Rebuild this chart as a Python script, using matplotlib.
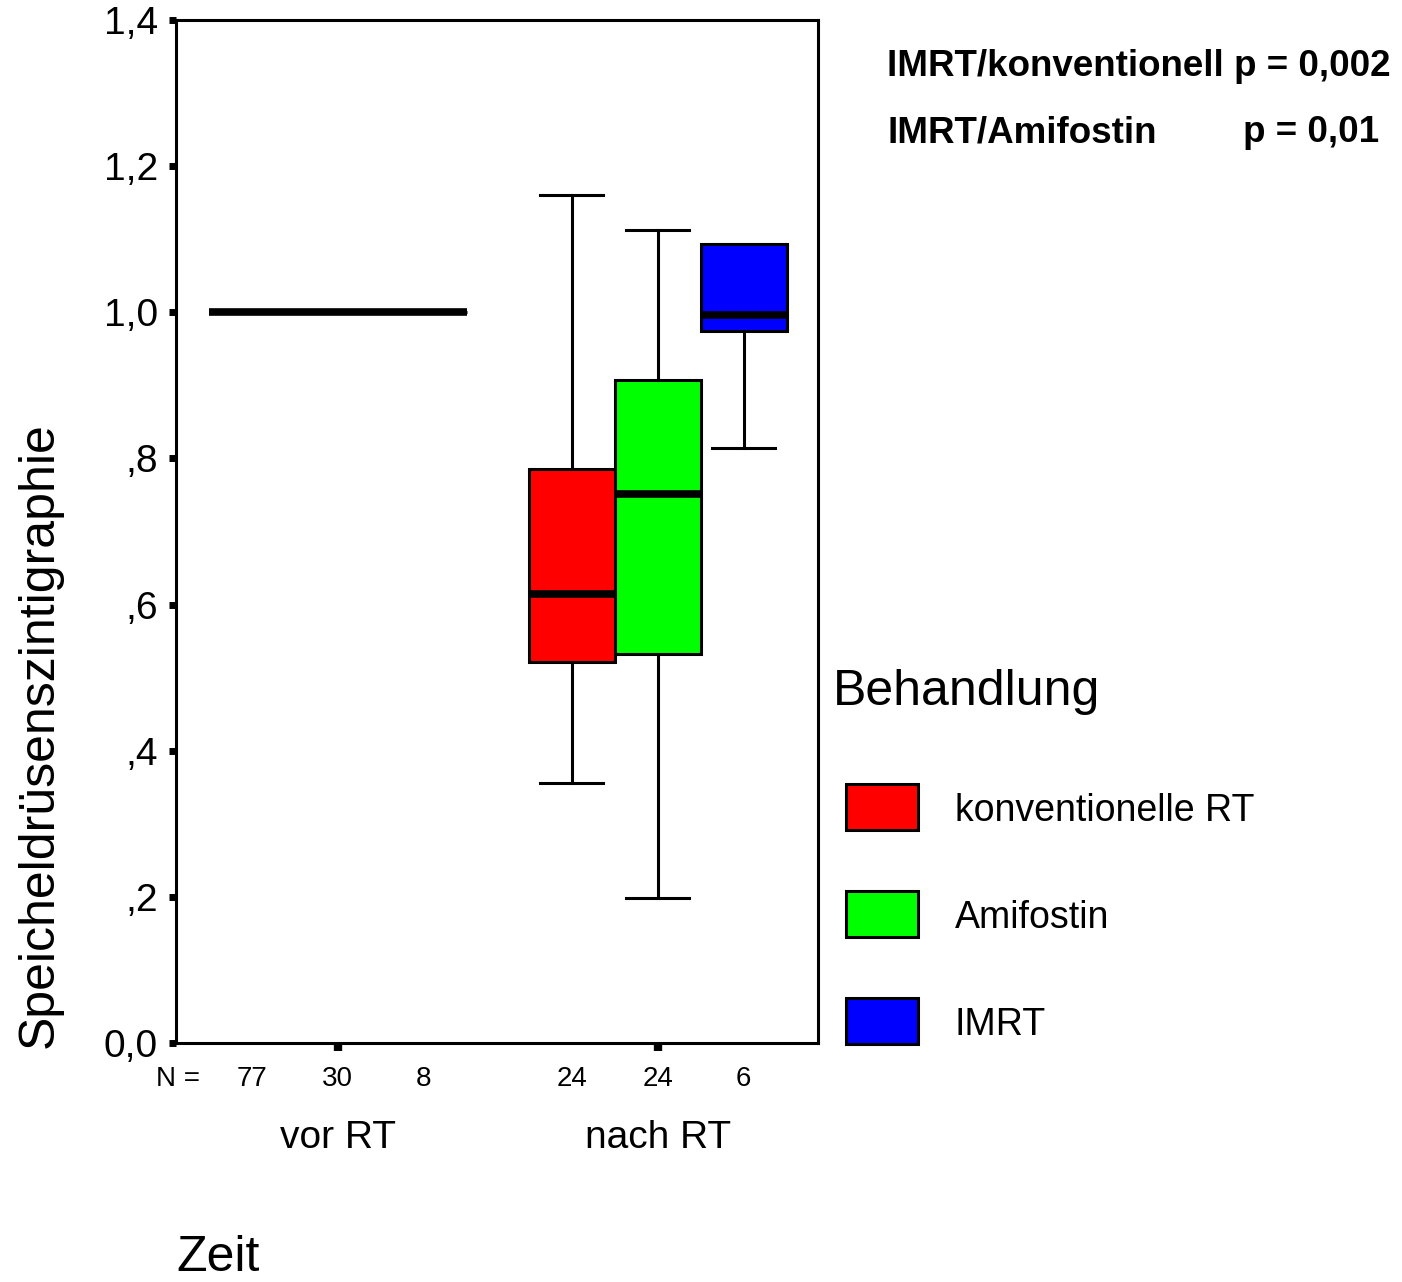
import numpy as np
from matplotlib import pyplot as plt
from matplotlib.patches import Rectangle

plt.rcParams['font.family'] = ['Liberation Sans', 'DejaVu Sans']

# Daten
groups = ["vor RT", "nach RT"]
treatments = ["konventionelle RT", "Amifostin", "IMRT"]
colors = ["#ff0000", "#00ff00", "#0000ff"]
n_counts = [[77, 30, 8], [24, 24, 6]]
# je Box: whislo, q1, med, q3, whishi
vor_stats = [[1.0, 1.0, 1.0, 1.0, 1.0],
             [1.0, 1.0, 1.0, 1.0, 1.0],
             [1.0, 1.0, 1.0, 1.0, 1.0]]
nach_stats = [[0.356, 0.522, 0.614, 0.786, 1.160],
              [0.199, 0.532, 0.752, 0.907, 1.112],
              [0.814, 0.975, 0.996, 1.093, 1.093]]
yticks = [0.0, 0.2, 0.4, 0.6, 0.8, 1.0, 1.2, 1.4]
ytick_labels = ["0,0", ",2", ",4", ",6", ",8", "1,0", "1,2", "1,4"]
pvals = ["IMRT/konventionell p = 0,002", "IMRT/Amifostin", "p = 0,01"]

W, H = 1402, 1282
fig = plt.figure(figsize=(W / 100, H / 100), dpi=100)

def fx(px):
    return px / W

def fy(py):
    return 1 - py / H

ax = fig.add_axes([fx(176), fy(1043), fx(818) - fx(176), fy(20) - fy(1043)])

group_centers = [1.88, 5.6]
offsets = [-1, 0, 1]
all_stats = [vor_stats, nach_stats]

for g, stats in enumerate(all_stats):
    for i, s in enumerate(stats):
        d = dict(whislo=s[0], q1=s[1], med=s[2], q3=s[3], whishi=s[4], fliers=[])
        pos = group_centers[g] + offsets[i]
        ax.bxp([d], positions=[pos], widths=1.0, patch_artist=True,
               showfliers=False, capwidths=0.73,
               boxprops=dict(facecolor=colors[i], edgecolor='black', linewidth=2.2),
               medianprops=dict(color='black', linewidth=5.5, solid_capstyle='butt'),
               whiskerprops=dict(color='black', linewidth=2.2),
               capprops=dict(color='black', linewidth=2.2))

ax.set_xlim(0, 7.465)
ax.set_ylim(0, 1.4)
ax.set_yticks(yticks)
ax.set_yticklabels(ytick_labels, fontsize=28)
ax.set_xticks(group_centers)
ax.set_xticklabels([])
ax.tick_params(axis='y', direction='out', length=5, width=5, pad=8)
ax.tick_params(axis='x', direction='out', length=6, width=6)
for sp in ax.spines.values():
    sp.set_linewidth(2.2)

# N-Zeile
fig.text(fx(178), fy(1079), "N =", fontsize=20, ha='center', va='center')
for g in range(2):
    for i in range(3):
        xd = group_centers[g] + offsets[i]
        xp = 176 + xd * 86
        fig.text(fx(xp), fy(1079), str(n_counts[g][i]), fontsize=20,
                 ha='center', va='center')

for g, name in enumerate(groups):
    xp = 176 + group_centers[g] * 86
    fig.text(fx(xp), fy(1138), name, fontsize=28, ha='center', va='center')

fig.text(fx(176), fy(1258), "Zeit", fontsize=36, ha='left', va='center')
fig.text(fx(40), fy(735), "Speicheldrüsenszintigraphie", fontsize=36,
         rotation=90, ha='center', va='center')

# p-Werte
fig.text(fx(887), fy(67), pvals[0], fontsize=26.5, fontweight='bold', ha='left', va='center')
fig.text(fx(887), fy(133), pvals[1], fontsize=26.5, fontweight='bold', ha='left', va='center')
fig.text(fx(1243), fy(133), pvals[2], fontsize=26.5, fontweight='bold', ha='left', va='center')

# Legende
fig.text(fx(833), fy(692), "Behandlung", fontsize=36, ha='left', va='center')
leg_y = [807, 914, 1021]
for i, lab in enumerate(treatments):
    r = Rectangle((fx(846), fy(leg_y[i] + 23)), fx(918) - fx(846), fy(leg_y[i] - 23) - fy(leg_y[i] + 23),
                  transform=fig.transFigure, facecolor=colors[i], edgecolor='black', linewidth=2.2)
    fig.add_artist(r)
    fig.text(fx(955), fy(leg_y[i] + 4), lab, fontsize=27, ha='left', va='center')

fig.savefig("out.png", dpi=100)
